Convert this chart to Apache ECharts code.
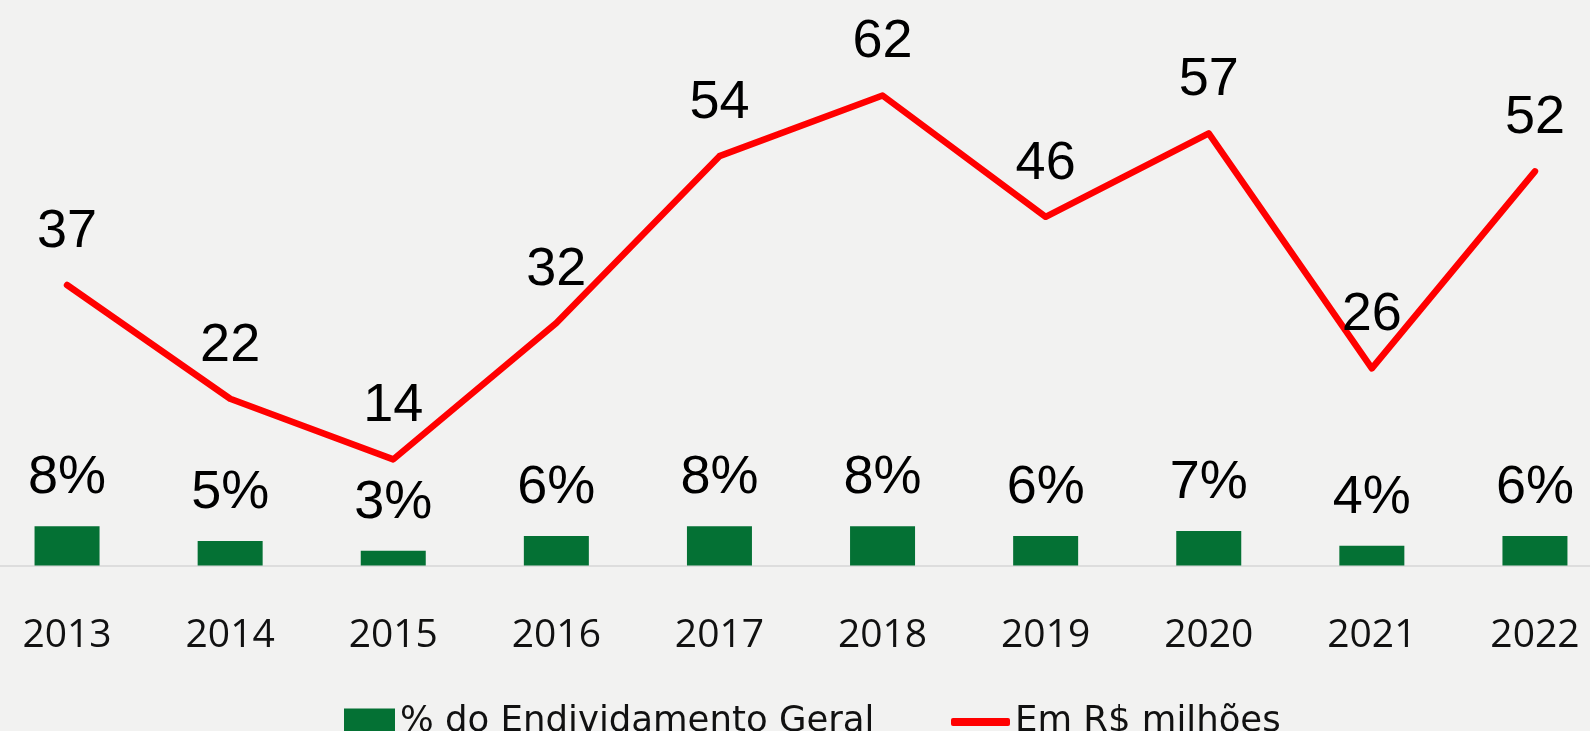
<!DOCTYPE html>
<html>
<head>
<meta charset="utf-8">
<script src="https://cdn.jsdelivr.net/npm/echarts@6/dist/echarts.min.js"></script>
<style>
  html, body { margin: 0; padding: 0; background: #f2f2f1; overflow: hidden; }
  #chart { width: 1590px; height: 731px; }
</style>
</head>
<body>
<div id="chart"></div>
<script>
// Years on the category axis
const years = ['2013', '2014', '2015', '2016', '2017', '2018', '2019', '2020', '2021', '2022'];
// Share of total debt (%)
const debtShare = [8, 5, 3, 6, 8, 8, 6, 7, 4, 6];
// Amount in R$ millions
const amountMillions = [37, 22, 14, 32, 54, 62, 46, 57, 26, 52];

const barName = '% do Endividamento Geral';
const lineName = 'Em R$ milhões';

const chart = echarts.init(document.getElementById('chart'), null, { renderer: 'canvas' });

const labelFont = 'Liberation Sans, Arial, sans-serif';
const yearFont = 'Open Sans, sans-serif';
const legendFont = 'DejaVu Sans, sans-serif';

chart.setOption({
  backgroundColor: '#f2f2f1',
  animation: false,
  grid: {
    left: -14.5, width: 1631, top: 0, height: 565.5,
    containLabel: false,
    outerBoundsMode: 'none'
  },
  xAxis: {
    type: 'category',
    data: years,
    axisTick: { show: false },
    axisLine: { show: true, lineStyle: { color: '#d6d6d6', width: 1.5 } },
    axisLabel: { margin: 51, fontSize: 39, color: '#111', fontFamily: yearFont }
  },
  yAxis: [
    { type: 'value', min: 0, max: 115, show: false, splitLine: { show: false } },
    { type: 'value', min: 0, max: 74.6, show: false, splitLine: { show: false } }
  ],
  legend: [
    {
      data: [barName],
      left: 339, top: 699,
      itemWidth: 51, itemHeight: 27,
      icon: 'rect',
      textStyle: { fontSize: 35.5, color: '#111', fontFamily: legendFont }
    },
    {
      data: [{ name: lineName, icon: 'roundRect' }],
      left: 946, top: 699,
      itemWidth: 59, itemHeight: 8,
      textStyle: { fontSize: 35.5, color: '#111', fontFamily: legendFont }
    }
  ],
  series: [
    {
      name: barName,
      type: 'bar',
      yAxisIndex: 0,
      data: debtShare,
      barWidth: 65,
      itemStyle: { color: '#047134' },
      label: {
        show: true,
        position: 'top',
        distance: 21,
        formatter: '{c}%',
        fontSize: 54,
        color: '#000',
        fontFamily: labelFont
      }
    },
    {
      name: lineName,
      type: 'line',
      yAxisIndex: 1,
      data: amountMillions,
      symbol: 'circle',
      symbolSize: 0,
      showSymbol: true,
      lineStyle: { color: '#ff0000', width: 6.5, cap: 'round', join: 'round' },
      itemStyle: { color: '#ff0000' },
      label: {
        show: true,
        position: 'top',
        distance: 26,
        fontSize: 54,
        color: '#000',
        fontFamily: labelFont
      },
      z: 3
    }
  ]
});
</script>
</body>
</html>
